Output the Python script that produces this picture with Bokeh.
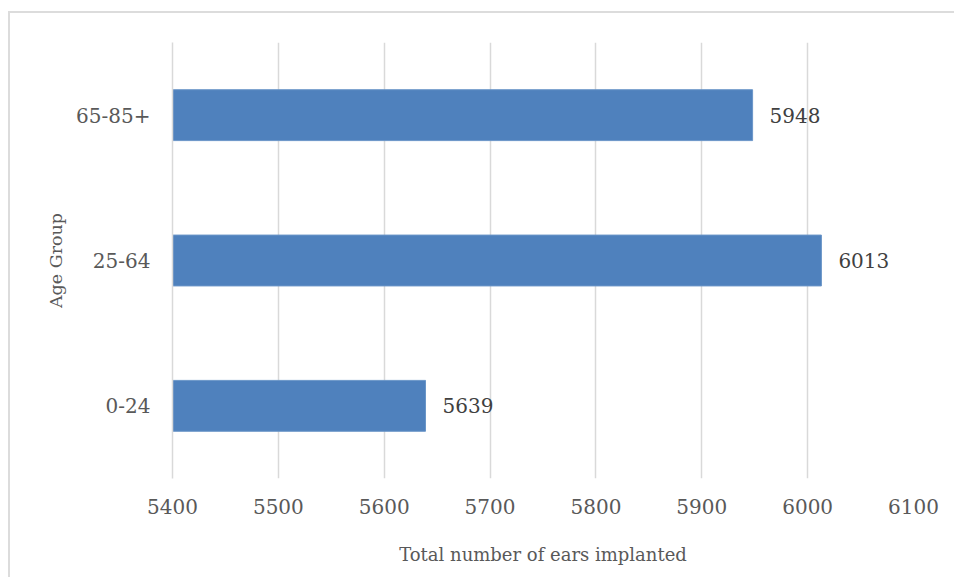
from bokeh.plotting import figure
from bokeh.models import ColumnDataSource, FactorRange, Range1d, FixedTicker, LabelSet
from bokeh.core.properties import value
from bokeh.embed import file_html
from bokeh.resources import INLINE

# Data
age_groups = ["0-24", "25-64", "65-85+"]
ears_implanted = [5639, 6013, 5948]
x_ticks = [5400, 5500, 5600, 5700, 5800, 5900, 6000, 6100]
x_title = "Total number of ears implanted"
y_title = "Age Group"

FONT = "DejaVu Serif"
GRID = "#d9d9d9"

src = ColumnDataSource(dict(
    group=age_groups,
    value=ears_implanted,
    label=[str(v) for v in ears_implanted],
))

p = figure(
    width=946, height=566,
    y_range=FactorRange(factors=age_groups, range_padding=0),
    x_range=Range1d(5400, 6100),
    output_backend="svg", toolbar_location=None,
    min_border_left=162, min_border_top=29, min_border_right=43, min_border_bottom=101,
)
p.styles = {"margin-left": "8px", "margin-top": "11px",
            "border-left": "2px solid #dcdcdc", "border-top": "2px solid #dcdcdc"}
p.outline_line_color = None

p.hbar(y="group", left=5400, right="value", height=0.35, source=src,
       fill_color="#4F81BD", line_color="#6a95c8", line_width=1)

labels = LabelSet(x="value", y="group", text="label", source=src,
                  x_offset=17, text_align="left", text_baseline="middle",
                  text_font=value(FONT), text_font_size=value("20px"),
                  text_color="#404040")
p.add_layout(labels)

# X axis
p.xaxis.ticker = FixedTicker(ticks=x_ticks)
p.xaxis.axis_line_color = None
p.xaxis.major_tick_line_color = None
p.xaxis.minor_tick_line_color = None
p.xaxis.major_tick_out = 0
p.xaxis.major_label_standoff = 20
p.xaxis.major_label_text_font = FONT
p.xaxis.major_label_text_font_size = "20px"
p.xaxis.major_label_text_color = "#595959"
p.xaxis.axis_label = x_title
p.xaxis.axis_label_text_font = FONT
p.xaxis.axis_label_text_font_size = "18px"
p.xaxis.axis_label_text_font_style = "normal"
p.xaxis.axis_label_text_color = "#595959"
p.xaxis.axis_label_standoff = 27

# Y axis
p.yaxis.axis_line_color = GRID
p.yaxis.axis_line_width = 1.5
p.yaxis.major_tick_line_color = None
p.yaxis.minor_tick_line_color = None
p.yaxis.major_tick_out = 0
p.yaxis.major_label_standoff = 22
p.yaxis.major_label_text_font = FONT
p.yaxis.major_label_text_font_size = "20px"
p.yaxis.major_label_text_color = "#595959"
p.yaxis.axis_label = y_title
p.yaxis.axis_label_text_font = FONT
p.yaxis.axis_label_text_font_size = "17.5px"
p.yaxis.axis_label_text_font_style = "normal"
p.yaxis.axis_label_text_color = "#595959"
p.yaxis.axis_label_standoff = 7

p.xgrid.grid_line_color = GRID
p.xgrid.grid_line_width = 1.5
p.ygrid.grid_line_color = None

open("out.html", "w").write(file_html(p, INLINE))
